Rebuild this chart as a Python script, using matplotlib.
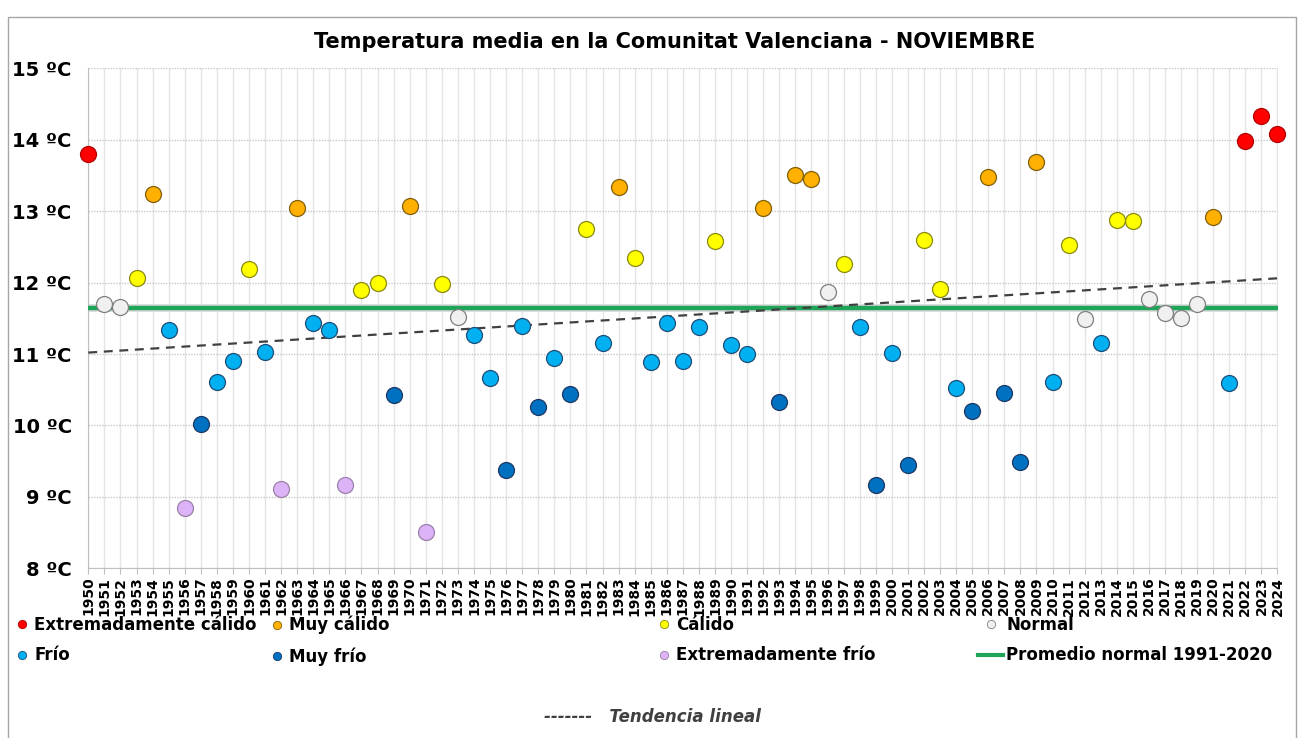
import numpy as np
import matplotlib
matplotlib.use('Agg')
import matplotlib.pyplot as plt
from matplotlib.lines import Line2D
from matplotlib.patches import Rectangle

years = np.arange(1950, 2025)

temps = np.array([
    13.80, 11.70, 11.66, 12.07, 13.24, 11.33, 8.85, 10.02, 10.61, 10.90,   # 1950-1959
    12.19, 11.03, 9.11, 13.05, 11.44, 11.34, 9.16, 11.90, 12.00, 10.42,    # 1960-1969
    13.07, 8.51, 11.98, 11.52, 11.26, 10.67, 9.38, 11.39, 10.26, 10.94,    # 1970-1979
    10.44, 12.75, 11.15, 13.34, 12.35, 10.89, 11.44, 10.90, 11.38, 12.58,  # 1980-1989
    11.12, 11.00, 13.04, 10.33, 13.50, 13.45, 11.87, 12.26, 11.38, 9.17,   # 1990-1999
    11.02, 9.44, 12.59, 11.91, 10.53, 10.20, 13.48, 10.45, 9.49, 13.69,    # 2000-2009
    10.61, 12.53, 11.49, 11.16, 12.87, 12.86, 11.77, 11.58, 11.51, 11.70,  # 2010-2019
    12.92, 10.60, 13.98, 14.33, 14.08,                                     # 2020-2024
])

# EC extremadamente calido, MC muy calido, C calido, N normal,
# F frio, MF muy frio, EF extremadamente frio
cats = [
    'EC', 'N', 'N', 'C', 'MC', 'F', 'EF', 'MF', 'F', 'F',
    'C', 'F', 'EF', 'MC', 'F', 'F', 'EF', 'C', 'C', 'MF',
    'MC', 'EF', 'C', 'N', 'F', 'F', 'MF', 'F', 'MF', 'F',
    'MF', 'C', 'F', 'MC', 'C', 'F', 'F', 'F', 'F', 'C',
    'F', 'F', 'MC', 'MF', 'MC', 'MC', 'N', 'C', 'F', 'MF',
    'F', 'MF', 'C', 'C', 'F', 'MF', 'MC', 'MF', 'MF', 'MC',
    'F', 'C', 'N', 'F', 'C', 'C', 'N', 'N', 'N', 'N',
    'MC', 'F', 'EC', 'EC', 'EC',
]

normal_1991_2020 = 11.65
trend_ends = [11.02, 12.06]   # tendencia lineal 1950 -> 2024

cat_names = {
    'EC': 'Extremadamente cálido', 'MC': 'Muy cálido', 'C': 'Cálido', 'N': 'Normal',
    'F': 'Frío', 'MF': 'Muy frío', 'EF': 'Extremadamente frío',
}
cat_fill = {
    'EC': '#FF0000', 'MC': '#FFB000', 'C': '#FFFF00', 'N': '#F0F0F0',
    'F': '#00B0F0', 'MF': '#0070C0', 'EF': '#DDB3F7',
}
cat_edge = {
    'EC': '#B00000', 'MC': '#80600A', 'C': '#8A8A10', 'N': '#7F7F7F',
    'F': '#1F4E79', 'MF': '#1F3864', 'EF': '#9A80AA',
}

W, H = 1299, 738
fig = plt.figure(figsize=(W / 100, H / 100), dpi=100)
ax = fig.add_axes([88.3 / W, 1 - 568.3 / H, (1277.5 - 88.3) / W, 500 / H])

ax.set_xlim(1950, 2024)
ax.set_ylim(8, 15)
ax.set_xticks(years)
ax.set_xticklabels([str(y) for y in years], rotation=90, fontsize=10, fontweight='bold')
ax.set_yticks(range(8, 16))
ax.set_yticklabels(['%d ºC' % t for t in range(8, 16)], fontsize=14, fontweight='bold')
ax.tick_params(axis='x', length=4, color='#BFBFBF', pad=2)
ax.tick_params(axis='y', length=0, pad=12)

ax.grid(axis='x', color='#E4E4E4', lw=1)
ax.grid(axis='y', color='#C8C8C8', lw=1, ls=(0, (1, 1)))
ax.set_axisbelow(True)
for s in ['top', 'right']:
    ax.spines[s].set_visible(False)
for s in ['left', 'bottom']:
    ax.spines[s].set_color('#BFBFBF')

# promedio normal con un ligero halo gris
ax.axhline(normal_1991_2020, color='#D8D8D8', lw=5.5, zorder=2)
ax.axhline(normal_1991_2020, color='#1FA557', lw=3.2, zorder=3)

ax.plot([years[0], years[-1]], trend_ends, color='#404040', lw=1.6,
        dashes=(4, 3), zorder=4)

cats_arr = np.array(cats)
for c in ['EC', 'MC', 'C', 'N', 'F', 'MF', 'EF']:
    m = cats_arr == c
    ax.plot(years[m], temps[m], 'o', ms=11.5, mfc=cat_fill[c], mec=cat_edge[c],
            mew=0.9, ls='', clip_on=False, zorder=5)

fig.text(675 / W, 1 - 42 / H, 'Temperatura media en la Comunitat Valenciana - NOVIEMBRE',
         ha='center', va='center', fontsize=15, fontweight='bold')

# leyenda en cuatro columnas
columns = [['EC', 'F'], ['MC', 'MF'], ['C', 'EF'], ['N', 'normal']]
col_x = [14, 269, 656, 978]
for col, x0 in zip(columns, col_x):
    handles = []
    labels = []
    for c in col:
        if c == 'normal':
            handles.append(Line2D([], [], color='#1FA557', lw=3))
            labels.append('Promedio normal 1991-2020')
        else:
            handles.append(Line2D([], [], marker='o', ls='', ms=6,
                                  mfc=cat_fill[c], mec=cat_edge[c], mew=0.6))
            labels.append(cat_names[c])
    hl = 1.5 if col[-1] == 'normal' else 1.0
    fig.legend(handles, labels, loc='upper left', bbox_to_anchor=(x0 / W, 1 - 616 / H),
               frameon=False, borderpad=0, borderaxespad=0, handlelength=hl,
               handletextpad=0.2, labelspacing=0.75,
               prop={'weight': 'bold', 'size': 12})

fig.text(652 / W, 1 - 717 / H, '-------   Tendencia lineal', ha='center', va='center',
         fontsize=12, fontweight='bold', style='italic', color='#404040')

fig.add_artist(Rectangle((8 / W, -0.01), (1296 - 8) / W, 1 - 17 / H + 0.01,
                         transform=fig.transFigure, fill=False, ec='#A6A6A6', lw=1))

plt.savefig('out.png', dpi=100)
plt.close()
